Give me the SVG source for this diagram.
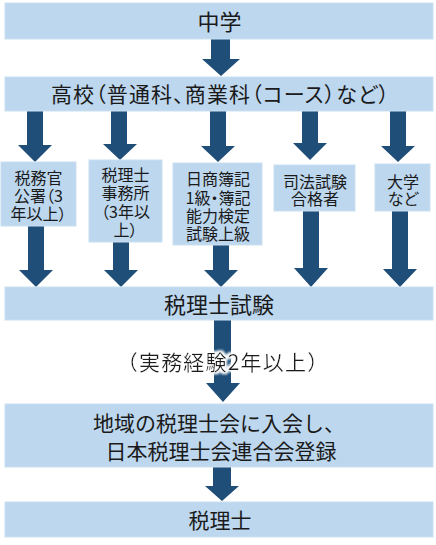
<svg xmlns="http://www.w3.org/2000/svg" width="436" height="545" viewBox="0 0 436 545">
<defs>
<style>
.box{fill:#BDD7EE;stroke:#CADFF2;stroke-width:1}
.arr{fill:#1F4E79}
text{font-family:"Noto Sans CJK JP","Noto Sans",sans-serif;fill:#1a1a1a;text-anchor:middle}
.p{font-feature-settings:"palt"}
.s{font-size:16px;font-feature-settings:"palt"}
.l{font-size:21px}
</style>
<filter id="glow" x="-10%" y="-30%" width="120%" height="160%">
<feMorphology in="SourceAlpha" operator="dilate" radius="1.5" result="d"/>
<feGaussianBlur in="d" stdDeviation="1.2" result="b"/>
<feFlood flood-color="#ffffff"/>
<feComposite in2="b" operator="in" result="g"/>
<feMerge><feMergeNode in="g"/><feMergeNode in="SourceGraphic"/></feMerge>
</filter>
</defs>
<rect width="436" height="545" fill="#ffffff"/>

<g id="connectors">
<path class="arr" d="M211,38 H230 V59 H240 L221,76 L202,59 H211 Z"/>
<path class="arr" d="M27,111 H43 V145 H52 L35,162 L18,145 H27 Z"/>
<path class="arr" d="M111,111 H127 V144 H137 L120,160 L103,144 H111 Z"/>
<path class="arr" d="M210,111 H226 V146 H235 L218,162 L201,146 H210 Z"/>
<path class="arr" d="M302,111 H318 V143 H327 L310,160 L293,143 H302 Z"/>
<path class="arr" d="M390,111 H406 V146 H415 L398,162 L381,146 H390 Z"/>
<path class="arr" d="M28,226 H44 V270 H53 L36,287 L19,270 H28 Z"/>
<path class="arr" d="M113,242 H129 V270 H138 L121,287 L104,270 H113 Z"/>
<path class="arr" d="M213,245 H229 V270 H238 L221,287 L204,270 H213 Z"/>
<path class="arr" d="M303,211 H319 V268 H328 L311,287 L294,268 H303 Z"/>
<path class="arr" d="M392,211 H408 V269 H417 L400,287 L383,269 H392 Z"/>
<path class="arr" d="M214,320 H231 V383 H240 L223,402 L206,383 H214 Z"/>
<path class="arr" d="M213,467 H231 V486 H239 L222,501 L205,486 H213 Z"/>
</g>

<g id="n-chugaku">
<rect class="box" x="5" y="3" width="428" height="36"/>
<text x="219.5" y="29.5" style="font-size:22px">中学</text>
</g>

<g id="n-koukou">
<rect class="box" x="5" y="77" width="428" height="34"/>
<text class="l p" x="220" y="101.5" textLength="338" lengthAdjust="spacing">高校（普通科、商業科（コース）など）</text>
</g>

<g id="n-zeimukan">
<rect class="box" x="1" y="162" width="75" height="64"/>
<text class="s"><tspan x="38.5" y="184">税務官</tspan><tspan x="38.5" y="202">公署（3</tspan><tspan x="38.5" y="220">年以上）</tspan></text>
</g>

<g id="n-jimusho">
<rect class="box" x="89" y="160" width="73" height="82"/>
<text class="s"><tspan x="125.5" y="181">税理士</tspan><tspan x="125.5" y="199">事務所</tspan><tspan x="125.5" y="218">（3年以</tspan><tspan x="125.5" y="236">上）</tspan></text>
</g>

<g id="n-boki">
<rect class="box" x="173" y="163" width="89" height="82"/>
<text class="s"><tspan x="218" y="185">日商簿記</tspan><tspan x="218" y="203.5">1級・簿記</tspan><tspan x="218" y="222">能力検定</tspan><tspan x="218" y="240">試験上級</tspan></text>
</g>

<g id="n-shihou">
<rect class="box" x="274" y="165" width="81" height="46"/>
<text class="s"><tspan x="315" y="188">司法試験</tspan><tspan x="315" y="205">合格者</tspan></text>
</g>

<g id="n-daigaku">
<rect class="box" x="375" y="164" width="55" height="47"/>
<text class="s"><tspan x="403" y="188">大学</tspan><tspan x="403" y="205">など</tspan></text>
</g>

<g id="n-shiken">
<rect class="box" x="5" y="287" width="428" height="33"/>
<text x="219" y="312.5" style="font-size:22px">税理士試験</text>
</g>

<g id="label-keiken">
<text x="223.1" y="370" style="font-size:21px;letter-spacing:1.2px" filter="url(#glow)">（実務経験2年以上）</text>
</g>

<g id="n-touroku">
<rect class="box" x="5" y="404" width="428" height="63"/>
<text class="l"><tspan x="219" y="431">地域の税理士会に入会し、</tspan><tspan x="221" y="458.5">日本税理士会連合会登録</tspan></text>
</g>

<g id="n-zeirishi">
<rect class="box" x="5" y="502" width="428" height="35"/>
<text class="l" x="220" y="528">税理士</text>
</g>
</svg>
